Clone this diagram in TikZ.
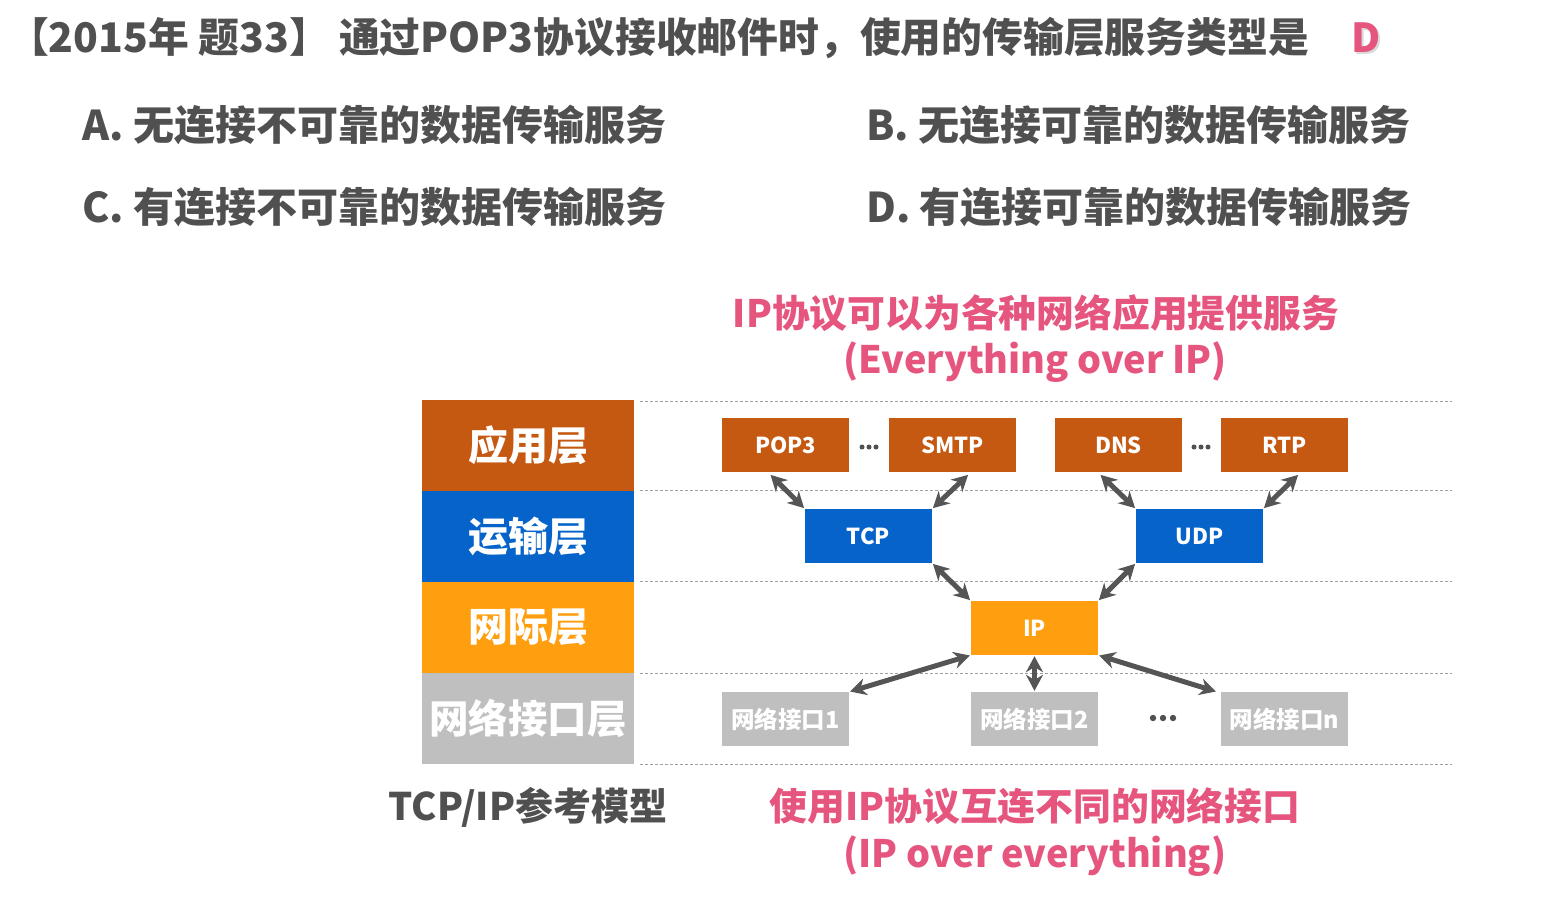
\documentclass[tikz,border=0pt]{standalone}
\usepackage{fontspec}
\setmainfont{Noto Sans CJK SC}
\usetikzlibrary{calc,arrows.meta}
\definecolor{txtgray}{HTML}{505050}
\definecolor{pinkc}{HTML}{E5557E}
\definecolor{appc}{HTML}{C65911}
\definecolor{tranc}{HTML}{0563C9}
\definecolor{netc}{HTML}{FF9E0E}
\definecolor{ifc}{HTML}{BFBFBF}
\definecolor{dashc}{HTML}{A0A0A0}
\definecolor{arrc}{HTML}{555555}
\newcommand{\fsz}[1]{\fontsize{#1}{#1}\selectfont}
\tikzset{
  layerbox/.style={draw=none, minimum width=212pt, minimum height=91pt, inner sep=0pt, text=white, font=\fsz{40}\bfseries},
  protobox/.style={draw=none, minimum width=127pt, minimum height=54pt, inner sep=0pt, text=white, font=\fsz{22}\bfseries},
  dashline/.style={draw=dashc, dashed, dash pattern=on 3pt off 2pt, line width=1pt},
  dbl/.style={draw=arrc, line width=5pt, {Stealth[length=16pt,width=17pt]}-{Stealth[length=16pt,width=17pt]}, shorten <=1pt, shorten >=1pt},
  qtext/.style={text=txtgray, font=\fsz{41}\bfseries, anchor=west, inner sep=0pt},
  pinktext/.style={text=pinkc, font=\fsz{37.8}\bfseries, inner sep=0pt},
}
\begin{document}
\begin{tikzpicture}[x=1pt,y=-1pt]
\useasboundingbox (0,0) rectangle (1568,922);
\fill[white] (0,0) rectangle (1568,922);
% title
\node[qtext, font=\fsz{40.8}\bfseries] (title) at (8,38) {【2015年 题33】 通过POP3协议接收邮件时，使用的传输层服务类型是};
\node[text=black!15, font=\fsz{40}\bfseries, inner sep=0pt] (ansshadow) at (1368,40) {D};
\node[text=pinkc, font=\fsz{40}\bfseries, inner sep=0pt] (ans) at (1366,38) {D};
% options
\node[qtext] (optA) at (82,125) {A. 无连接不可靠的数据传输服务};
\node[qtext] (optB) at (866,125) {B. 无连接可靠的数据传输服务};
\node[qtext] (optC) at (82,207) {C. 有连接不可靠的数据传输服务};
\node[qtext] (optD) at (866,207) {D. 有连接可靠的数据传输服务};
% pink top
\node[pinktext] (top1) at (1036,313) {IP协议可以为各种网络应用提供服务};
\node[pinktext] (top2) at (1035,362) {(Everything over IP)};
% dashed lines
\foreach \yy/\nm in {401/d0,490/d1,581/d2,673/d3,764/d4}{
  \coordinate (\nm s) at (640,\yy);
  \coordinate (\nm e) at (1452,\yy);
  \draw[dashline] (\nm s) -- (\nm e);
}
% layers
\node[layerbox, fill=appc] (lapp) at (528,445.5) {应用层};
\node[layerbox, fill=tranc] (ltran) at (528,536) {运输层};
\node[layerbox, fill=netc] (lnet) at (528,627) {网际层};
\node[layerbox, fill=ifc, font=\fsz{39.5}\bfseries] (lif) at (528,718.5) {网络接口层};
% app protocols
\node[protobox, fill=appc] (pop3) at (785.5,445) {POP3};
\node[protobox, fill=appc] (smtp) at (952.5,445) {SMTP};
\node[protobox, fill=appc] (dns) at (1118.5,445) {DNS};
\node[protobox, fill=appc] (rtp) at (1284.5,445) {RTP};
\coordinate (dots1) at (869,447);
\coordinate (dots2) at (1201,447);
\foreach \dd in {dots1,dots2}{
  \foreach \dx in {-7,0,7} \fill[txtgray] ($(\dd)+(\dx,0)$) circle (2.5);
}
% transport
\node[protobox, fill=tranc] (tcp) at (868.5,536) {TCP};
\node[protobox, fill=tranc] (udp) at (1199.5,536) {UDP};
% ip
\node[protobox, fill=netc] (ip) at (1034.5,628) {IP};
% interfaces
\node[protobox, fill=ifc, font=\fsz{23.5}\bfseries] (if1) at (785.5,719) {网络接口1};
\node[protobox, fill=ifc, font=\fsz{23.5}\bfseries] (if2) at (1034.5,719) {网络接口2};
\node[protobox, fill=ifc, font=\fsz{23.5}\bfseries] (ifn) at (1284.5,719) {网络接口n};
\coordinate (dots3) at (1163,718);
\foreach \dx in {-10,0,10} \fill[txtgray] ($(dots3)+(\dx,0)$) circle (3.2);
% arrows
\draw[dbl] ($(pop3.south west)+(48,2)$) -- (tcp.north west);
\draw[dbl] ($(smtp.south west)+(80,2)$) -- (tcp.north east);
\draw[dbl] ($(dns.south west)+(45,2)$) -- (udp.north west);
\draw[dbl] ($(rtp.south west)+(78,2)$) -- (udp.north east);
\draw[dbl] (tcp.south east) -- (ip.north west);
\draw[dbl] (udp.south west) -- (ip.north east);
\draw[dbl] (ip.south west) -- (if1.north east);
\draw[dbl] (ip.south) -- (if2.north);
\draw[dbl] (ip.south east) -- ($(ifn.north west)+(-4,0)$);
% bottom
\node[text=txtgray, font=\fsz{38}\bfseries, inner sep=0pt] (model) at (528,807) {TCP/IP参考模型};
\node[pinktext] (bot1) at (1035,806) {使用IP协议互连不同的网络接口};
\node[pinktext] (bot2) at (1035,856) {(IP over everything)};
\end{tikzpicture}
\end{document}
